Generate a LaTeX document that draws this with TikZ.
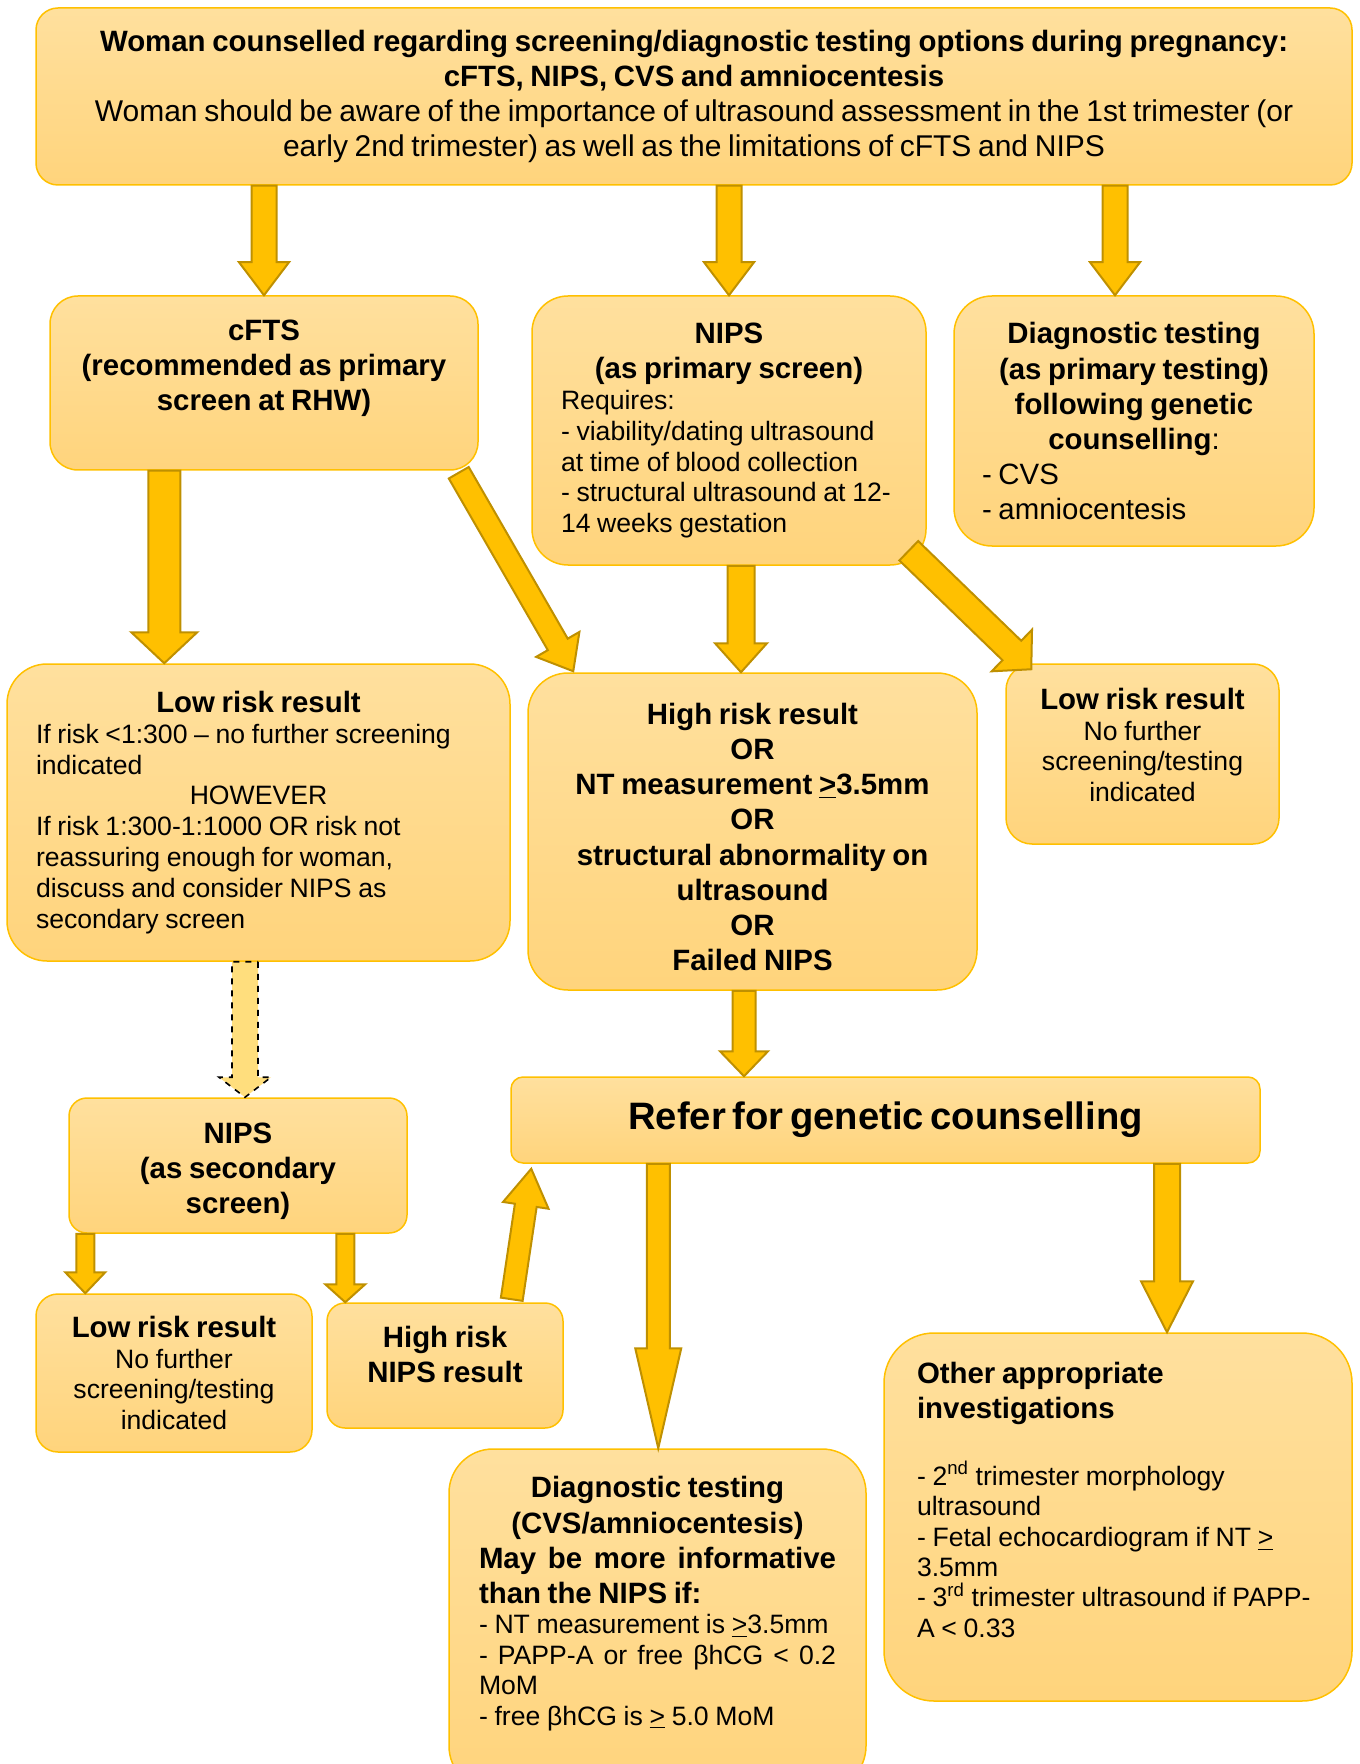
\documentclass[tikz,border=0pt]{standalone}
\usepackage{fontspec}
\setmainfont{Liberation Sans}
\usetikzlibrary{calc}
\setlength{\parindent}{0pt}

\definecolor{boxtop}{RGB}{255,224,158}
\definecolor{boxbot}{RGB}{255,212,124}
\definecolor{boxline}{RGB}{255,192,0}
\definecolor{arrowfill}{RGB}{255,192,0}
\definecolor{arrowline}{RGB}{191,144,0}
\definecolor{dashfill}{RGB}{255,222,125}

\newcommand{\bodytxt}{\fontsize{13.3}{15.4}\selectfont}
\newcommand{\headtxt}{\fontsize{14.7}{17.6}\selectfont\bfseries}
\newcommand{\headreg}{\fontsize{14.7}{17.4}\selectfont}
% extra space under the text of a box (negative pushes the text down)
\newcommand{\botpad}[1]{\par\vspace{#1}\nointerlineskip\hbox{}}

% block arrow: [style]{from}{to}{half shaft}{half head}{head length}
\newcommand{\fatarrow}[6][blockarrow]{%
  \coordinate (fa-s) at (#2);
  \coordinate (fa-e) at (#3);
  \coordinate (fa-b) at ($(fa-e)!#6!(fa-s)$);
  \draw[#1] ($(fa-s)!#4!90:(fa-e)$) -- ($(fa-b)!#4!-90:(fa-s)$)
    -- ($(fa-b)!#5!-90:(fa-s)$) -- (fa-e) -- ($(fa-b)!#5!90:(fa-s)$)
    -- ($(fa-b)!#4!90:(fa-s)$) -- ($(fa-s)!#4!-90:(fa-e)$) -- cycle;
}

\begin{document}
\begin{tikzpicture}[x=0.5pt, y=-0.5pt,
    box/.style={draw=boxline, line width=0.75pt, top color=boxtop, bottom color=boxbot, inner sep=0pt},
    blockarrow/.style={fill=arrowfill, draw=arrowline, line width=1pt},
    dasharrow/.style={fill=dashfill, draw=black, dashed, line width=0.8pt}]

    \useasboundingbox (0,0) rectangle (1359,1764);

    \node[box, rounded corners=11pt, minimum width=658pt, minimum height=88.5pt, text width=645pt] (top) at (694,96.5)
        {{\centering\headtxt Woman counselled regarding screening/diagnostic testing options during pregnancy:\\
          cFTS, NIPS, CVS and amniocentesis\par}
         {\centering\fontsize{15}{17.4}\selectfont Woman should be aware of the importance of ultrasound assessment in the 1st trimester (or\\
          early 2nd trimester) as well as the limitations of cFTS and NIPS\par}};

    \node[box, rounded corners=14pt, minimum width=214pt, minimum height=87pt, text width=200pt] (cfts) at (264,383)
        {{\centering\headtxt cFTS\\(recommended as primary\\screen at RHW)\par}\botpad{15pt}};
    \node[box, rounded corners=18pt, minimum width=197pt, minimum height=134.5pt, text width=168pt] (nips) at (729,430.5)
        {{\centering\headtxt NIPS\\(as primary screen)\par}
         {\raggedright\bodytxt Requires:\\- viability/dating ultrasound\\at time of blood collection\\- structural ultrasound at 12-\\14 weeks gestation\par}};
    \node[box, rounded corners=19pt, minimum width=180pt, minimum height=125pt, text width=152pt] (diag) at (1134,421)
        {{\centering\headtxt Diagnostic testing\\(as primary testing)\\following genetic\\counselling{\mdseries:}\par}
         {\raggedright\headreg - CVS\\- amniocentesis\par}};

    \node[box, rounded corners=20pt, minimum width=251.5pt, minimum height=148.5pt, text width=222.5pt] (lowL) at (258.5,812.5)
        {{\centering\headtxt Low risk result\par}
         {\raggedright\bodytxt If risk <1:300 -- no further screening\\indicated\par}
         {\centering\bodytxt HOWEVER\par}
         {\raggedright\bodytxt If risk 1:300-1:1000 OR risk not\\reassuring enough for woman,\\discuss and consider NIPS as\\secondary screen\par}};
    \node[box, rounded corners=20pt, minimum width=224.5pt, minimum height=158.5pt, text width=215pt] (high) at (752.5,831.5)
        {{\centering\headtxt High risk result\\OR\\NT measurement \underline{>}3.5mm\\OR\\structural abnormality on\\ultrasound\\OR\\Failed NIPS\par}\botpad{-5.5pt}};
    \node[box, rounded corners=13pt, minimum width=136.5pt, minimum height=90pt, text width=125pt] (lowR) at (1142.5,754)
        {{\centering\headtxt Low risk result\par}
         {\centering\bodytxt No further\\screening/testing\\indicated\par}\botpad{9pt}};

    \node[box, rounded corners=6pt, minimum width=374.5pt, minimum height=43pt, text width=360pt] (refer) at (885.5,1120)
        {{\centering\fontsize{19.1}{22}\selectfont\bfseries Refer for genetic counselling\par}};
    \node[box, rounded corners=9pt, minimum width=169pt, minimum height=67.5pt, text width=160pt] (nips2) at (238,1165.5)
        {{\centering\headtxt NIPS\\(as secondary\\screen)\par}\botpad{-5.5pt}};

    \node[box, rounded corners=11pt, minimum width=138pt, minimum height=79pt, text width=130pt] (lowB) at (174,1373)
        {{\centering\headtxt Low risk result\par}
         {\centering\bodytxt No further\\screening/testing\\indicated\par}};
    \node[box, rounded corners=9pt, minimum width=118pt, minimum height=62.5pt, text width=110pt] (highN) at (445,1365.5)
        {{\centering\headtxt High risk\\NIPS result\par}\botpad{11pt}};
    \node[box, rounded corners=25pt, minimum width=234pt, minimum height=184pt, text width=201pt] (other) at (1118,1517)
        {{\raggedright\headtxt Other appropriate\\investigations\par}\vspace{18pt}
         {\raggedright\fontsize{13.3}{15.2}\selectfont - 2\textsuperscript{nd} trimester morphology\\ultrasound\\- Fetal echocardiogram if NT \underline{>}\\3.5mm\\- 3\textsuperscript{rd} trimester ultrasound if PAPP-\\A < 0.33\par}\botpad{17pt}};
    \node[box, rounded corners=22pt, minimum width=208.5pt, minimum height=170.5pt, text width=178.5pt] (diagB) at (657.5,1619.5)
        {{\centering\headtxt Diagnostic testing\\(CVS/amniocentesis)\par}
         {\raggedright\headtxt May\hfill be\hfill more\hfill informative\\than the NIPS if:\par}
         {\raggedright\fontsize{13.3}{15.2}\selectfont - NT measurement is \underline{>}3.5mm\\-\hfill PAPP-A\hfill or\hfill free\hfill βhCG\hfill <\hfill 0.2\\MoM\\- free βhCG is \underline{>} 5.0 MoM\par}\botpad{16pt}};

    \coordinate (dgin) at ($(diag.north)+(-19,0)$);
    \foreach \t in {cfts.north, nips.north, dgin} {
        \fatarrow{top.south -| \t}{\t}{6.25pt}{12.5pt}{16.5pt}
    }

    \coordinate (llin) at ($(lowL.north west)+(158,0)$);
    \fatarrow{cfts.south -| llin}{llin}{8pt}{16.5pt}{15.5pt}
    \fatarrow{$(cfts.south east)+(-20,2)$}{$(high.north west)+(46,-1)$}{5.75pt}{12.5pt}{15.5pt}
    \coordinate (nh) at ($(nips.south)+(12,0)$);
    \fatarrow{nh}{nh |- high.north}{6.75pt}{13pt}{14.5pt}
    \fatarrow{$(nips.south east)+(-18,-15)$}{$(lowR.north west)+(26,6)$}{6.75pt}{14.5pt}{13.5pt}

    \coordinate (nd) at ($(nips2.north)+(7,0)$);
    \fatarrow[dasharrow]{lowL.south -| nd}{nd}{6.5pt}{13pt}{10pt}
    \coordinate (hr) at ($(high.south)+(-8.5,0)$);
    \fatarrow{hr}{hr |- refer.north}{5.75pt}{12pt}{12.5pt}

    \coordinate (nl) at ($(nips2.south west)+(17,0)$);
    \coordinate (nn) at ($(nips2.south west)+(277,0)$);
    \fatarrow{nl}{nl |- lowB.north}{4.5pt}{10pt}{10.5pt}
    \fatarrow{nn}{nn |- highN.north}{4.5pt}{10pt}{9pt}
    \fatarrow{$(highN.north east)+(-52,-3)$}{$(refer.south west)+(21,5)$}{5.5pt}{11.5pt}{18.5pt}

    \coordinate (rd) at ($(refer.south west)+(148,0)$);
    \fatarrow{rd}{rd |- diagB.north}{5.75pt}{11.5pt}{50pt}
    \coordinate (ro) at ($(other.north)+(49,0)$);
    \fatarrow{refer.south -| ro}{ro}{6.5pt}{13pt}{25.5pt}
\end{tikzpicture}
\end{document}
